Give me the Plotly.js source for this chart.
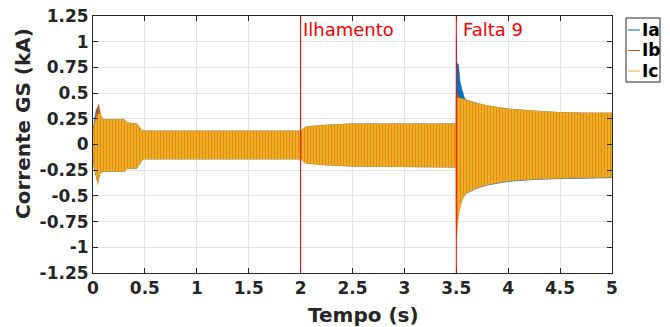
<!DOCTYPE html>
<html>
<head>
<meta charset="utf-8">
<script src="https://cdn.plot.ly/plotly-3.0.1.min.js"></script>
<style>html,body{margin:0;padding:0;background:#fff;}#chart{width:670px;height:327px;}</style>
</head>
<body>
<div id="chart"></div>
<script>
// ---- data (envelopes of the three phase currents, kA) ----
const tempo = [0, 0.01, 0.03, 0.048, 0.055, 0.065, 0.08, 0.1, 0.3, 0.33, 0.42, 0.48, 0.5, 1.0, 1.5, 2.0, 2.05, 2.2, 2.5, 3.0, 3.5, 3.501, 3.505, 3.52, 3.535, 3.55, 3.565, 3.58, 3.6, 3.63, 3.7, 3.8, 3.9, 4.0, 4.25, 4.5, 4.75, 5.0];

const iaUpper = [0.05, 0.22, 0.33, 0.37, 0.30, 0.29, 0.26, 0.24, 0.24, 0.21, 0.20, 0.13, 0.13, 0.13, 0.13, 0.13, 0.17, 0.185, 0.20, 0.20, 0.20, 1.05, 0.79, 0.78, 0.62, 0.55, 0.50, 0.45, 0.43, 0.42, 0.40, 0.375, 0.36, 0.345, 0.325, 0.31, 0.305, 0.305];
const iaLower = [-0.05, -0.22, -0.31, -0.36, -0.33, -0.28, -0.27, -0.26, -0.26, -0.23, -0.23, -0.14, -0.14, -0.14, -0.14, -0.14, -0.18, -0.195, -0.21, -0.215, -0.22, -0.75, -0.75, -0.66, -0.60, -0.54, -0.52, -0.49, -0.474, -0.454, -0.425, -0.395, -0.376, -0.359, -0.341, -0.332, -0.326, -0.323];

const ibUpper = [0.05, 0.18, 0.28, 0.36, 0.39, 0.33, 0.27, 0.24, 0.24, 0.21, 0.20, 0.13, 0.13, 0.13, 0.13, 0.13, 0.17, 0.185, 0.20, 0.20, 0.20, 0.50, 0.50, 0.46, 0.45, 0.445, 0.44, 0.435, 0.427, 0.42, 0.40, 0.375, 0.36, 0.345, 0.325, 0.31, 0.305, 0.305];
const ibLower = [-0.05, -0.20, -0.30, -0.37, -0.33, -0.28, -0.27, -0.26, -0.26, -0.23, -0.23, -0.14, -0.14, -0.14, -0.14, -0.14, -0.18, -0.195, -0.21, -0.215, -0.22, -0.80, -0.80, -0.68, -0.61, -0.55, -0.52, -0.49, -0.47, -0.45, -0.42, -0.39, -0.37, -0.353, -0.335, -0.327, -0.32, -0.317];

const icUpper = [0.05, 0.18, 0.26, 0.29, 0.30, 0.31, 0.26, 0.24, 0.24, 0.21, 0.20, 0.13, 0.13, 0.13, 0.13, 0.13, 0.17, 0.185, 0.20, 0.20, 0.20, 0.45, 0.45, 0.45, 0.45, 0.445, 0.44, 0.435, 0.427, 0.42, 0.40, 0.375, 0.36, 0.345, 0.325, 0.31, 0.305, 0.305];
const icLower = [-0.05, -0.20, -0.30, -0.39, -0.33, -0.28, -0.27, -0.26, -0.26, -0.23, -0.23, -0.14, -0.14, -0.14, -0.14, -0.14, -0.18, -0.195, -0.21, -0.215, -0.22, -0.89, -0.89, -0.70, -0.62, -0.55, -0.52, -0.49, -0.47, -0.45, -0.42, -0.39, -0.37, -0.353, -0.335, -0.327, -0.32, -0.317];

const seriesNames = ["Ia", "Ib", "Ic"];
const eventTimes = [2, 3.5];
const eventLabels = ["Ilhamento", "Falta 9"];
const xTicks = [0, 0.5, 1, 1.5, 2, 2.5, 3, 3.5, 4, 4.5, 5];
const xTickText = ["0", "0.5", "1", "1.5", "2", "2.5", "3", "3.5", "4", "4.5", "5"];
const yTicks = [-1.25, -1, -0.75, -0.5, -0.25, 0, 0.25, 0.5, 0.75, 1, 1.25];
const yTickText = ["-1.25", "-1", "-0.75", "-0.5", "-0.25", "0", "0.25", "0.5", "0.75", "1", "1.25"];

// ---- styling ----
const colors = ["#0072BD", "#D95319", "#EDB120"];
const W = 670, H = 327;
const M = {l: 93, r: 58, t: 16, b: 54};
const PW = W - M.l - M.r, PH = H - M.t - M.b;
const px = x => (x - M.l) / PW;           // pixel -> paper x
const py = y => (H - M.b - y) / PH;       // pixel -> paper y
const FONT = "DejaVu Sans";
const dark = "#262626";

function band(upper, lower, i) {
  const tr = {
    x: tempo.concat(tempo.slice().reverse()),
    y: upper.concat(lower.slice().reverse()),
    type: "scatter", mode: "lines", fill: "toself",
    name: seriesNames[i],
    line: {color: colors[i], width: 0.6},
    fillcolor: colors[i],
    hoverinfo: "skip", showlegend: false
  };
  if (i === 2) {
    tr.fillpattern = {shape: "|", bgcolor: "#EDB120", fgcolor: "#E27A1E", size: 3, solidity: 0.25};
  }
  return tr;
}

const data = [
  band(iaUpper, iaLower, 0),
  band(ibUpper, ibLower, 1),
  band(icUpper, icLower, 2)
];

const shapes = [];
const annotations = [];
eventTimes.forEach((t, k) => {
  shapes.push({type: "line", xref: "x", yref: "paper", x0: t, x1: t, y0: 0, y1: 1,
               line: {color: "#FF0000", width: 1}, layer: "above"});
  annotations.push({x: t, y: py(29), xref: "x", yref: "paper", text: eventLabels[k],
                    showarrow: false, xanchor: "left", yanchor: "middle",
                    xshift: k === 0 ? 0 : 5,
                    font: {family: FONT, size: 18, color: "#FF0000"}});
});

// legend drawn by hand (MATLAB style, short lines)
const legTop = 18, legBot = 82, legL = 626, legR = 660;
shapes.push({type: "rect", xref: "paper", yref: "paper", x0: px(legL), x1: px(legR),
             y0: py(legBot), y1: py(legTop), line: {color: dark, width: 1}, fillcolor: "#FFFFFF", layer: "above"});
const legY = [30, 50.5, 71];
seriesNames.forEach((n, i) => {
  shapes.push({type: "line", xref: "paper", yref: "paper", x0: px(628), x1: px(640),
               y0: py(legY[i]), y1: py(legY[i]), line: {color: colors[i], width: 1}, layer: "above"});
  annotations.push({x: px(640), y: py(legY[i]), xref: "paper", yref: "paper", text: "<b>" + n + "</b>",
                    showarrow: false, xanchor: "left", yanchor: "middle",
                    font: {family: FONT, size: 17, color: "#000000"}});
});

// axis titles
annotations.push({x: px(363), y: py(315), xref: "paper", yref: "paper", text: "<b>Tempo (s)</b>",
                  showarrow: false, xanchor: "center", yanchor: "middle",
                  font: {family: FONT, size: 20, color: dark}});
annotations.push({x: px(23), y: py(124), xref: "paper", yref: "paper", text: "<b>Corrente GS (kA)</b>",
                  showarrow: false, textangle: -90, xanchor: "center", yanchor: "middle",
                  font: {family: FONT, size: 20, color: dark}});

const axisCommon = {
  showline: true, linecolor: dark, linewidth: 1, mirror: "ticks",
  ticks: "inside", ticklen: 5, tickcolor: dark, tickwidth: 1,
  showgrid: true, gridcolor: "#E3E3E3", gridwidth: 1, zeroline: false,
  tickfont: {family: FONT, size: 17, color: dark, weight: "bold"},
  tickmode: "array"
};

const layout = {
  width: W, height: H,
  margin: M,
  paper_bgcolor: "#FFFFFF", plot_bgcolor: "#FFFFFF",
  showlegend: false,
  xaxis: Object.assign({}, axisCommon, {range: [0, 5], tickvals: xTicks, ticktext: xTickText}),
  yaxis: Object.assign({}, axisCommon, {range: [-1.25, 1.25], tickvals: yTicks, ticktext: yTickText}),
  shapes: shapes,
  annotations: annotations,
  font: {family: FONT, color: dark}
};

Plotly.newPlot("chart", data, layout, {staticPlot: true, displayModeBar: false});
</script>
</body>
</html>
